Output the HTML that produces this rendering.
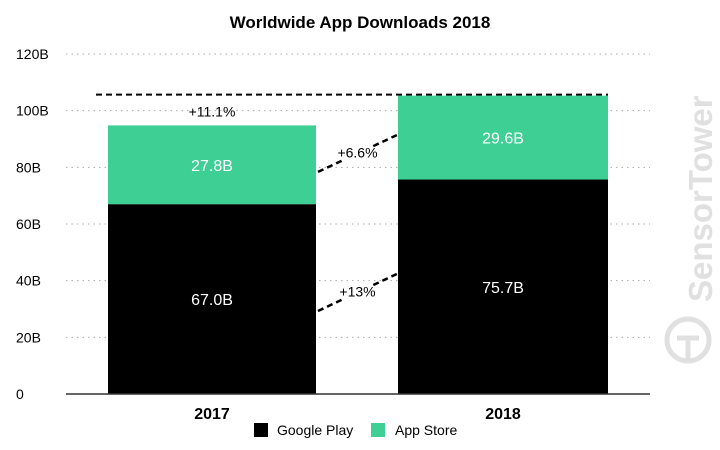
<!DOCTYPE html>
<html><head><meta charset="utf-8"><style>
body{margin:0;background:#fff;font-family:"Liberation Sans",sans-serif}
svg text{font-family:"Liberation Sans",sans-serif}
</style></head><body>
<svg id="chart" width="720" height="445" viewBox="0 0 720 445" xmlns="http://www.w3.org/2000/svg">
<text x="360" y="28" text-anchor="middle" font-size="17" font-weight="bold">Worldwide App Downloads 2018</text>
<g id="grid"></g><g id="bars"></g>
<g fill="#ddd">
<text transform="translate(712,302) rotate(-90)" font-size="33" font-weight="bold" fill="#e0e0e0">SensorTower</text>
<circle cx="688" cy="340" r="21" fill="none" stroke="#e0e0e0" stroke-width="5"/>
<path d="M688 338 L688 362 M677 338 L699 338" stroke="#e0e0e0" stroke-width="5"/>
</g>
<g>
<rect x="254" y="423" width="14" height="14" fill="#000"/>
<text x="277" y="435" font-size="14">Google Play</text>
<rect x="371" y="423" width="14" height="14" fill="#3ecf95"/>
<text x="395" y="435" font-size="14">App Store</text>
</g>
</svg>
<script>
const categories=["2017","2018"];
const googlePlay=[67.0,75.7];
const appStore=[27.8,29.6];
const yTicks=[0,20,40,60,80,100,120];
const tickLabels=["0","20B","40B","60B","80B","100B","120B"];
const growthLabels=["+13%","+6.6%","+11.1%"];
const connectorStart=[29.3,78.4];
const connectorEnd=[42.4,91.4];
const NS="http://www.w3.org/2000/svg";
const y=v=>394-v*(340/120);
const barX=[108,398],barW=[208,210];
function el(t,a,p){const e=document.createElementNS(NS,t);for(const k in a)e.setAttribute(k,a[k]);p.appendChild(e);return e;}
const g=document.getElementById('grid'),b=document.getElementById('bars');
yTicks.forEach((v,i)=>{
 if(v>0){const l=el('line',{x1:66,x2:650,y1:y(v),y2:y(v),stroke:'#aaa','stroke-dasharray':'1.5 4'},g);
 
 }
 const t=el('text',{x:16,y:y(v)+5,'font-size':14},g);t.textContent=tickLabels[i];
 
 
});
categories.forEach((c,i)=>{
 const r1=el('rect',{x:barX[i],y:y(googlePlay[i]),width:barW[i],height:y(0)-y(googlePlay[i]),fill:'#000'},b);
 
 
 const tot=googlePlay[i]+appStore[i];
 const r2=el('rect',{x:barX[i],y:y(tot),width:barW[i],height:y(googlePlay[i])-y(tot),fill:'#3ecf95'},b);
 
 
 const cx=barX[i]+barW[i]/2;
 const t1=el('text',{x:cx,y:(y(0)+y(googlePlay[i]))/2+6,'text-anchor':'middle','font-size':16,fill:'#fff'},b);t1.textContent=googlePlay[i].toFixed(1)+'B';
 
 
 const t2=el('text',{x:cx,y:(y(tot)+y(googlePlay[i]))/2+6,'text-anchor':'middle','font-size':16,fill:'#fff'},b);t2.textContent=appStore[i].toFixed(1)+'B';
 
 
 const t3=el('text',{x:cx,y:419,'text-anchor':'middle','font-size':16,'font-weight':'bold'},b);t3.textContent=c;
 
 
});
const ax=el('line',{x1:66,x2:650,y1:y(0),y2:y(0),stroke:'#333','stroke-width':1.5},b);


const x1=barX[0]+barW[0]+2,x2=barX[1]-1;
const tot0=googlePlay[0]+appStore[0],tot1=googlePlay[1]+appStore[1];
connectorStart.forEach((s,i)=>{
 const ya=y(s),yb=y(connectorEnd[i]);
 const f=0.3;
 const la=el('line',{x1:x1,y1:ya,x2:x1+(x2-x1)*f,y2:ya+(yb-ya)*f,stroke:'#000','stroke-width':2.5,'stroke-dasharray':'6 4'},b);
 
 
 const lb=el('line',{x1:x2-(x2-x1)*f,y1:yb-(yb-ya)*f,x2:x2,y2:yb,stroke:'#000','stroke-width':2.5,'stroke-dasharray':'6 4'},b);
 
 
 const t=el('text',{x:(x1+x2)/2,y:(ya+yb)/2+4,'text-anchor':'middle','font-size':14},b);t.textContent=growthLabels[i];
 
 
});
const tl=el('line',{x1:96,x2:barX[1]+barW[1],y1:y(tot1)-1,y2:y(tot1)-1,stroke:'#000','stroke-width':2,'stroke-dasharray':'6 4'},b);


const tt=el('text',{x:barX[0]+barW[0]/2,y:(y(tot1)+y(tot0))/2+6,'text-anchor':'middle','font-size':14},b);tt.textContent=growthLabels[2];


</script>
</body></html>
